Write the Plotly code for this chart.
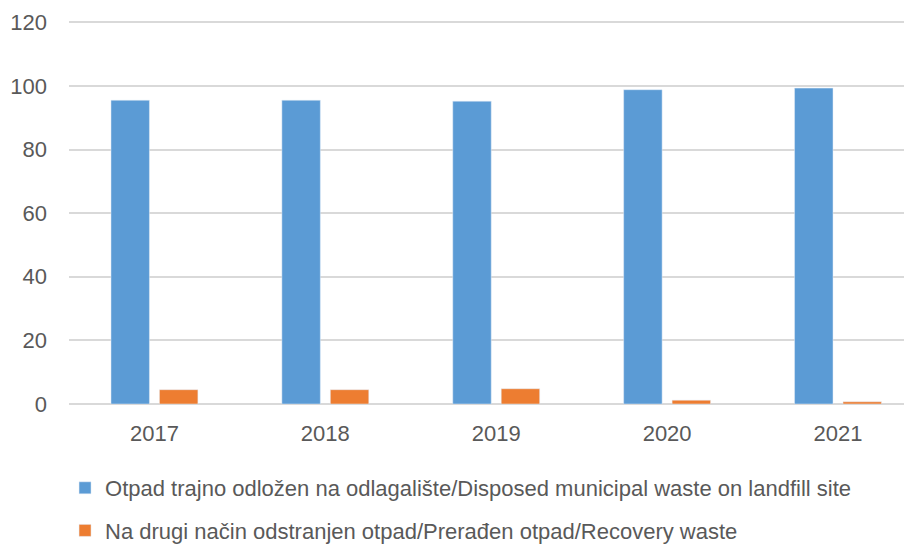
import plotly.graph_objects as go

years = ["2017", "2018", "2019", "2020", "2021"]
disposed = [95.5, 95.5, 95.2, 98.8, 99.3]
recovery = [4.5, 4.5, 4.8, 1.2, 0.7]
name_disposed = "Otpad trajno odložen na odlagalište/Disposed municipal waste on landfill site"
name_recovery = "Na drugi način odstranjen otpad/Prerađen otpad/Recovery waste"
y_ticks = [0, 20, 40, 60, 80, 100, 120]

NARROW = "Liberation Sans Narrow, sans-serif"
fig = go.Figure()
fig.add_bar(x=years, y=disposed, name=name_disposed, marker_color="#5b9bd5",
            legendgroup="a")
fig.add_bar(x=years, y=recovery, name=name_recovery, marker_color="#ed7d31",
            legendgroup="b")

fig.update_layout(
    width=912, height=544,
    margin=dict(l=61, r=8, t=13, b=148, autoexpand=False),
    paper_bgcolor="white", plot_bgcolor="white",
    barmode="group", bargap=0.433, bargroupgap=0.206,
    font=dict(family=NARROW, size=22, color="#595959"),
    showlegend=True,
    legend=dict(orientation="v", x=-0.0047, xanchor="left", y=-0.1645, yanchor="top",
                traceorder="grouped", tracegroupgap=11, itemwidth=30,
                font=dict(family=NARROW, size=22, color="#595959")),
    xaxis=dict(range=[-0.5, 4.433], showgrid=False, ticks="", tickfont=dict(size=22),
               showline=False, automargin=False, ticklabelstandoff=14),
    yaxis=dict(range=[0, 120.4], tickvals=y_ticks, showgrid=True, gridcolor="#d9d9d9",
               gridwidth=1.5, zeroline=True, zerolinecolor="#d9d9d9", zerolinewidth=1.5,
               ticks="", ticklabelstandoff=21, tickfont=dict(size=22), automargin=False),
)
fig.write_html("out.html")
